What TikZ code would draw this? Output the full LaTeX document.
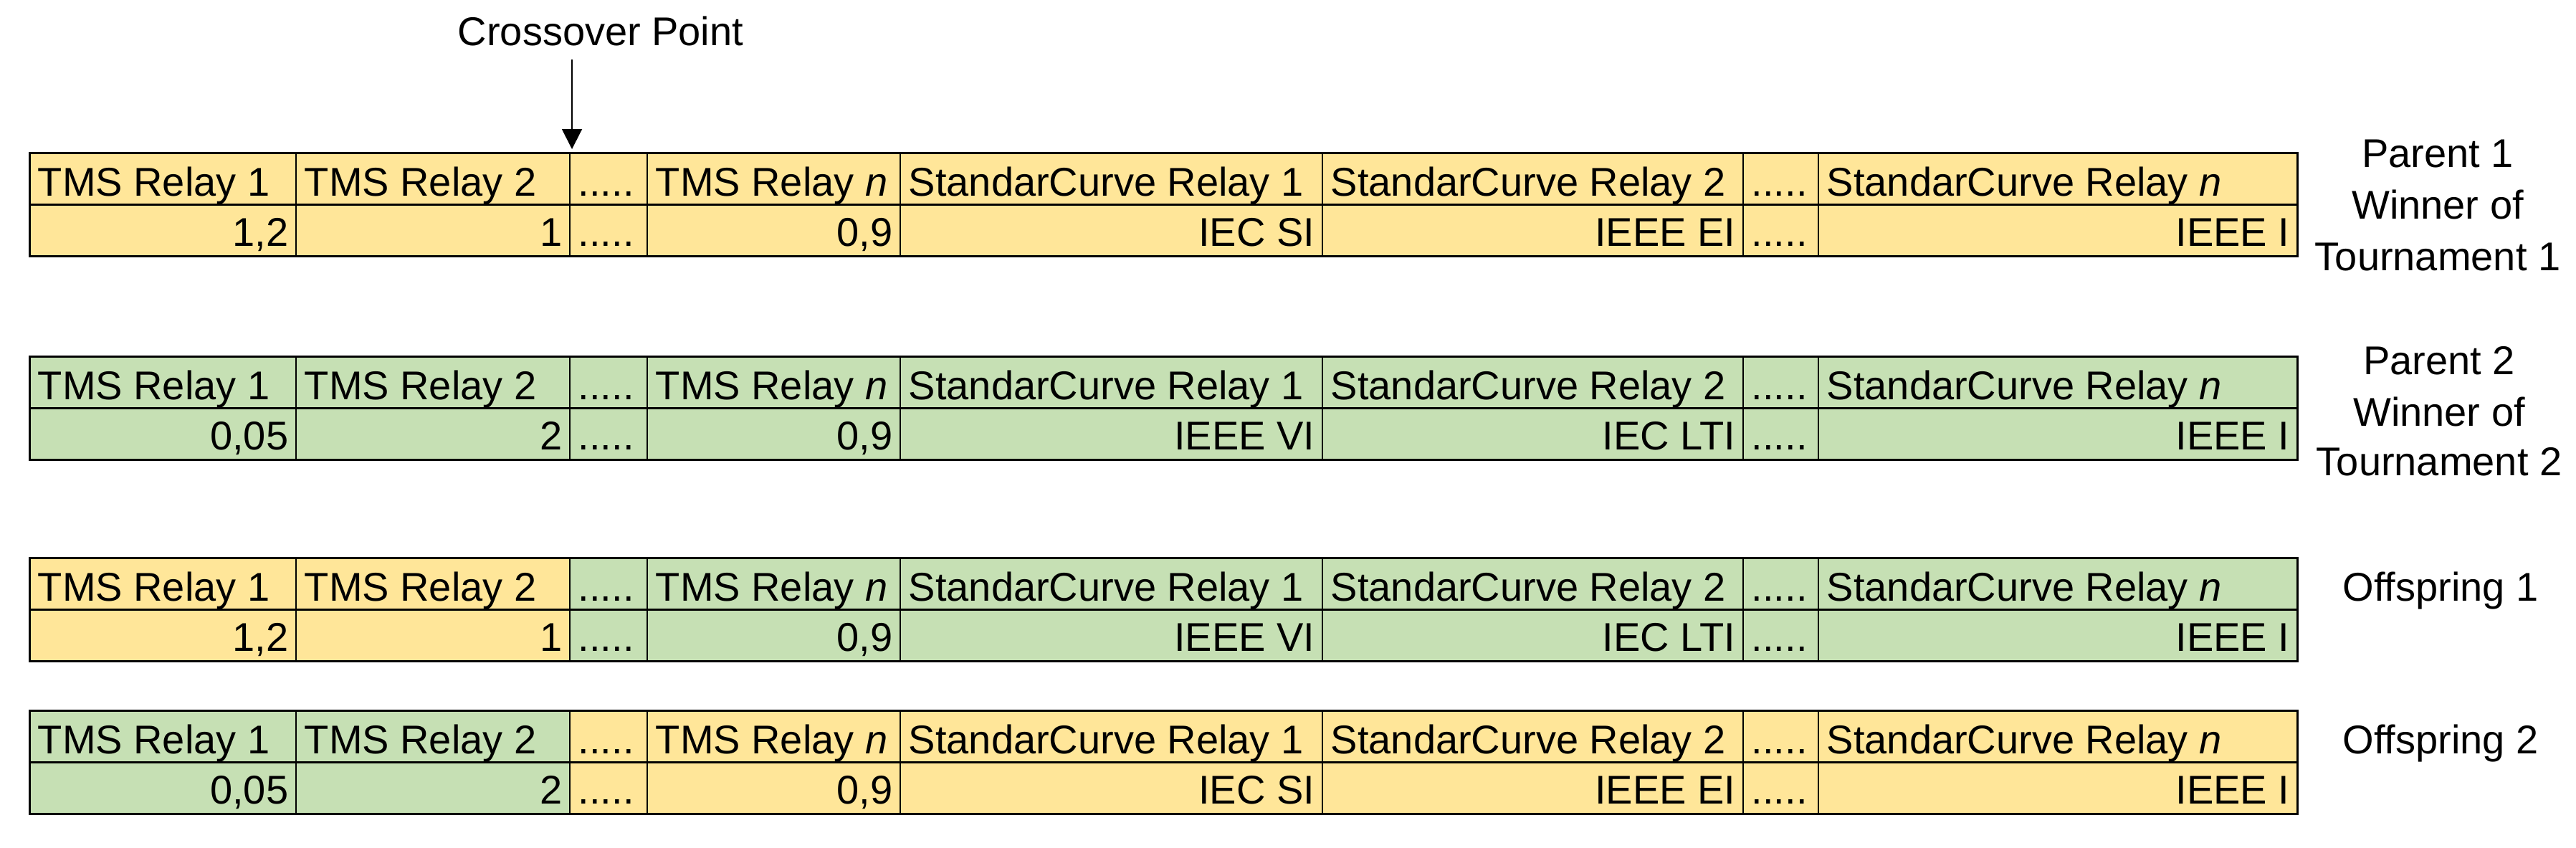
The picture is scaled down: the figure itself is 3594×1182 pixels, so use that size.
\documentclass[tikz,border=0pt]{standalone}
\usepackage{fontspec}
\setmainfont{Liberation Sans}
\usetikzlibrary{arrows.meta}
\definecolor{ylw}{HTML}{FFE699}
\definecolor{grn}{HTML}{C6E0B4}
\newcommand\fivedots{.....}
\newcommand\colx[1]{\pgfmathsetmacro\cx{{41,413,795,903,1256,1845,2432,2537,3205}[#1]}}
% #1 id, #2 top, #3 colours (8), #4..#9 values of columns 1,2,4,5,6,8
\newcommand\relaytable[9]{%
  \foreach \cc [count=\i] in {#3}{%
    \colx{\i-1}\let\xa\cx
    \colx{\i}\let\xb\cx
    \fill[\cc] (\xa,#2) rectangle (\xb,#2+144);
  }
  \foreach \x in {413,795,903,1256,1845,2432,2537}
    \draw[grid line] (\x,#2) -- (\x,#2+144);
  \draw[frame line] (41,#2+72) -- (3205,#2+72);
  \draw[frame line] (41,#2) rectangle (3205,#2+144);
  \foreach \h [count=\i] in {TMS Relay 1,TMS Relay 2,\fivedots,TMS Relay \textit{n},StandarCurve Relay 1,StandarCurve Relay 2,\fivedots,StandarCurve Relay \textit{n}}{%
    \colx{\i-1}
    \node[hdr] (#1h\i) at (\cx+11,#2+60) {\h};
  }
  \node[val] (#1v1) at (403,#2+130) {#4};
  \node[val] (#1v2) at (785,#2+130) {#5};
  \node[hdr] (#1v3) at (806,#2+130) {\fivedots};
  \node[val] (#1v4) at (1246,#2+130) {#6};
  \node[val] (#1v5) at (1835,#2+130) {#7};
  \node[val] (#1v6) at (2422,#2+130) {#8};
  \node[hdr] (#1v7) at (2443,#2+130) {\fivedots};
  \node[val] (#1v8) at (3195,#2+130) {#9};
}
\begin{document}
\begin{tikzpicture}[x=0.25pt,y=-0.25pt,
  every node/.style={font=\fontsize{14pt}{18pt}\selectfont, inner sep=0pt, text=black},
  hdr/.style={anchor=base west},
  val/.style={anchor=base east},
  lbl/.style={anchor=base},
  grid line/.style={line width=0.5pt, draw=black},
  frame line/.style={line width=0.75pt, draw=black},
  ptr/.style={line width=0.5pt, -{Triangle[width=7pt,length=7pt]}}]
\useasboundingbox (0,0) rectangle (3594,1182);

\relaytable{a}{213}{ylw,ylw,ylw,ylw,ylw,ylw,ylw,ylw}{1,2}{1}{0,9}{IEC SI}{IEEE EI}{IEEE I}
\relaytable{b}{497}{grn,grn,grn,grn,grn,grn,grn,grn}{0,05}{2}{0,9}{IEEE VI}{IEC LTI}{IEEE I}
\relaytable{c}{778}{ylw,ylw,grn,grn,grn,grn,grn,grn}{1,2}{1}{0,9}{IEEE VI}{IEC LTI}{IEEE I}
\relaytable{d}{991}{grn,grn,ylw,ylw,ylw,ylw,ylw,ylw}{0,05}{2}{0,9}{IEC SI}{IEEE EI}{IEEE I}

% crossover pointer
\node[lbl] (cross) at (838,63) {Crossover Point};
\coordinate (arrtop) at (798,83);
\coordinate (arrtip) at (798,208);
\draw[ptr] (arrtop) -- (arrtip);

% right labels
\node[lbl] (p1a) at (3401,233) {Parent 1};
\node[lbl] (p1b) at (3401,305) {Winner of};
\node[lbl] (p1c) at (3401,377) {Tournament 1};
\node[lbl] (p2a) at (3403,522) {Parent 2};
\node[lbl] (p2b) at (3403,594) {Winner of};
\node[lbl] (p2c) at (3403,663) {Tournament 2};
\node[lbl] (o1) at (3405,838) {Offspring 1};
\node[lbl] (o2) at (3405,1051) {Offspring 2};
\end{tikzpicture}
\end{document}
